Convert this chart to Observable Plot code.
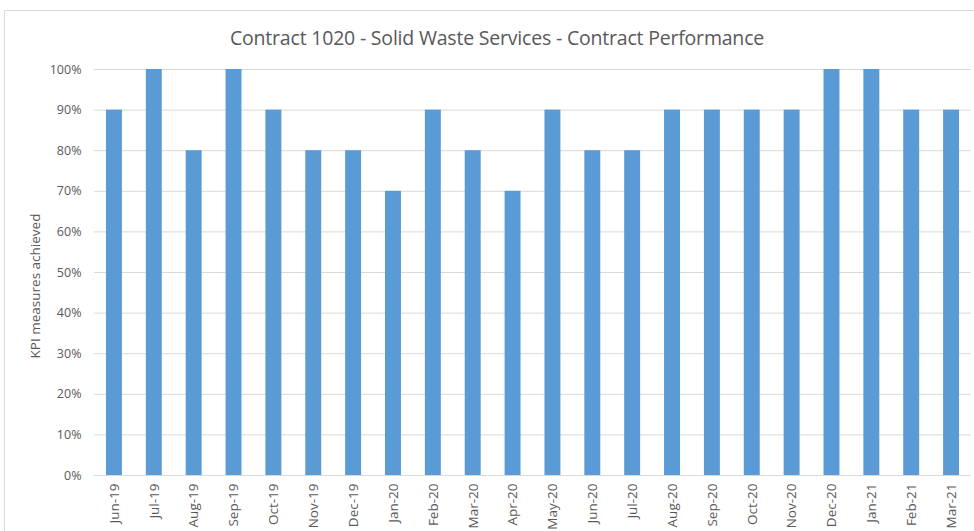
<!DOCTYPE html>
<html>
<head>
<meta charset="utf-8">
<script src="https://cdn.jsdelivr.net/npm/d3@7"></script>
<script src="https://cdn.jsdelivr.net/npm/@observablehq/plot@0.6"></script>
<style>
  html, body { margin: 0; padding: 0; background: #fff; }
  #wrap { position: relative; width: 974px; height: 531px; overflow: hidden; font-family: "Open Sans", sans-serif; }
  #frame { position: absolute; left: 4px; top: 10px; width: 1000px; height: 600px; border-left: 1px solid #d9d9d9; border-top: 1px solid #d9d9d9; }
  #title { position: absolute; left: 0; top: 24px; width: 994px; text-align: center; font-size: 19.5px; color: #595959; letter-spacing: -0.2px; }
  #ylabel { position: absolute; left: 35px; top: 286px; transform: translate(-50%, -50%) rotate(-90deg); white-space: nowrap; font-size: 13.5px; color: #595959; }
  #chart { position: absolute; left: 0; top: 0; }
</style>
</head>
<body>
<div id="wrap">
  <div id="frame"></div>
  <div id="chart"></div>
  <div id="title">Contract 1020 - Solid Waste Services - Contract Performance</div>
  <div id="ylabel">KPI measures achieved</div>
</div>
<script>
const months = ["Jun-19","Jul-19","Aug-19","Sep-19","Oct-19","Nov-19","Dec-19","Jan-20","Feb-20","Mar-20","Apr-20","May-20","Jun-20","Jul-20","Aug-20","Sep-20","Oct-20","Nov-20","Dec-20","Jan-21","Feb-21","Mar-21"];
const kpi = [0.9,1.0,0.8,1.0,0.9,0.8,0.8,0.7,0.9,0.8,0.7,0.9,0.8,0.8,0.9,0.9,0.9,0.9,1.0,1.0,0.9,0.9];
const yTicks = [0,0.1,0.2,0.3,0.4,0.5,0.6,0.7,0.8,0.9,1.0];

const data = months.map((m, i) => ({month: m, value: kpi[i]}));

const plot = Plot.plot({
  width: 974,
  height: 531,
  marginLeft: 94,
  marginRight: 3,
  marginTop: 69,
  marginBottom: 56,
  style: {fontFamily: "Open Sans, sans-serif", fontSize: "12.5px", color: "#595959", background: "transparent"},
  x: {domain: months, paddingInner: 0.6, paddingOuter: 0.3, round: false, label: null},
  y: {domain: [0, 1], label: null},
  marks: [
    Plot.gridY(yTicks.filter(t => t > 0), {stroke: "#d9d9d9", strokeOpacity: 1, strokeWidth: 1}),
    Plot.barY(data, {x: "month", y: "value", fill: "#5b9bd5"}),
    Plot.ruleY([0], {stroke: "#d9d9d9", strokeWidth: 1}),
    Plot.axisY(yTicks, {tickSize: 0, tickPadding: 13, tickFormat: d => Math.round(d * 100) + "%", label: null, fill: "#595959"}),
    Plot.axisX({tickSize: 0, tickPadding: 8, tickRotate: -90, label: null, fill: "#595959", fontSize: 13.5})
  ]
});
document.getElementById("chart").appendChild(plot);
</script>
</body>
</html>
